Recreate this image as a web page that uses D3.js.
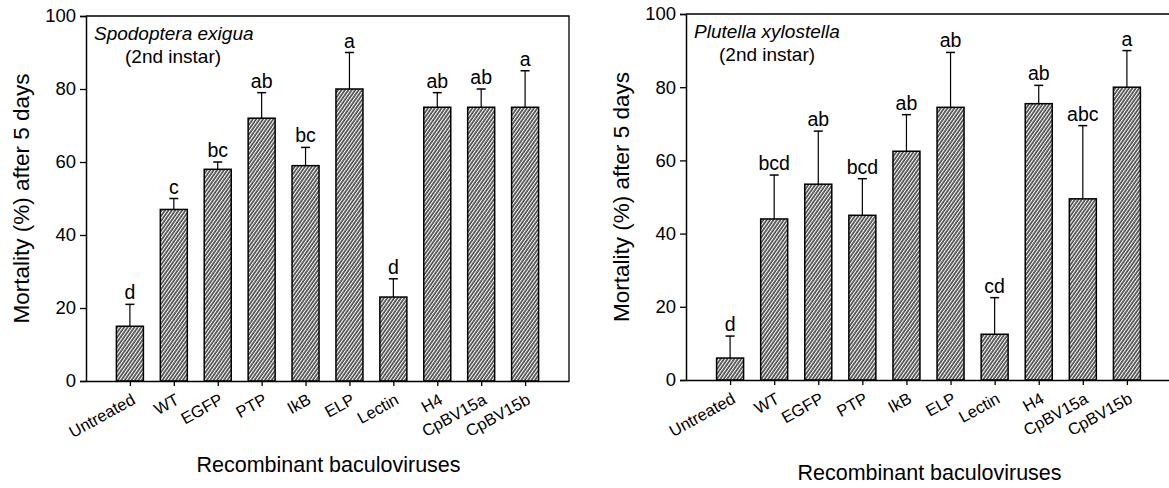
<!DOCTYPE html>
<html>
<head>
<meta charset="utf-8">
<script src="https://cdn.jsdelivr.net/npm/d3@7"></script>
<style>
  body { margin: 0; background: #fff; }
  svg { display: block; font-family: "Liberation Sans", Arial, sans-serif; }
</style>
</head>
<body>
<div id="chart"></div>
<script>
// Categories and values
const categories = ["Untreated", "WT", "EGFP", "PTP", "IkB", "ELP", "Lectin", "H4", "CpBV15a", "CpBV15b"];
const yTicks = [0, 20, 40, 60, 80, 100];

const exiguaMean  = [15, 47, 58, 72, 59, 80, 23, 75, 75, 75];
const exiguaErr   = [6, 3, 2, 7, 5, 10, 5, 4, 5, 10];
const exiguaGroup = ["d", "c", "bc", "ab", "bc", "a", "d", "ab", "ab", "a"];

const xyloMean  = [6, 44, 53.5, 45, 62.5, 74.5, 12.5, 75.5, 49.5, 80];
const xyloErr   = [6, 12, 14.5, 10, 10, 15, 10, 5, 20, 10];
const xyloGroup = ["d", "bcd", "ab", "bcd", "ab", "ab", "cd", "ab", "abc", "a"];

const W = 1169, H = 488;

const svg = d3.select("#chart")
  .append("svg")
  .attr("width", W)
  .attr("height", H);

// diagonal hatch used by every bar
svg.append("defs")
  .append("pattern")
  .attr("id", "hatch")
  .attr("patternUnits", "userSpaceOnUse")
  .attr("width", 2.8)
  .attr("height", 10)
  .attr("patternTransform", "rotate(35)")
  .append("line")
  .attr("x1", 1).attr("y1", 0)
  .attr("x2", 1).attr("y2", 10)
  .attr("stroke", "#000")
  .attr("stroke-width", 1.2);

function drawPanel(opt) {
  const { left, right, top, base, mean, err, group, species, speciesX, titleY } = opt;

  const x = d3.scalePoint().domain(categories).range([left, right]).padding(1);
  const y = d3.scaleLinear().domain([0, 100]).range([base, top]);
  const bw = 27;

  const g = svg.append("g");

  // frame (top + right)
  g.append("path")
    .attr("d", `M${left},${y(100)} H${right} V${base}`)
    .attr("fill", "none")
    .attr("stroke", "#000")
    .attr("stroke-width", 1.3);

  // y axis
  const yAxis = g.append("g")
    .attr("transform", `translate(${left},0)`)
    .call(d3.axisLeft(y).tickValues(yTicks).tickSize(6).tickPadding(4));
  yAxis.select(".domain").attr("stroke-width", 1.5);
  yAxis.selectAll(".tick line").attr("stroke-width", 1.3);
  yAxis.selectAll("text")
    .attr("font-size", 18.5)
    .attr("font-family", "Liberation Sans, Arial, sans-serif")
    .attr("fill", "#000");

  // x axis
  const xAxis = g.append("g")
    .attr("transform", `translate(0,${base})`)
    .call(d3.axisBottom(x).tickSize(5).tickSizeOuter(0));
  xAxis.select(".domain").attr("stroke-width", 1.5);
  xAxis.selectAll(".tick line").attr("stroke-width", 1.3);
  xAxis.selectAll("text")
    .attr("font-size", 16.5)
    .attr("font-family", "Liberation Sans, Arial, sans-serif")
    .attr("fill", "#000")
    .attr("text-anchor", "end")
    .attr("dy", null)
    .attr("y", 0)
    .attr("transform", "translate(6,22) rotate(-29)");

  const rows = categories.map((c, i) => ({ c, m: mean[i], e: err[i], lab: group[i] }));

  // bars
  g.selectAll("rect.bar")
    .data(rows)
    .join("rect")
    .attr("class", "bar")
    .attr("x", d => x(d.c) - bw / 2)
    .attr("width", bw)
    .attr("y", d => y(d.m))
    .attr("height", d => base - y(d.m))
    .attr("fill", "url(#hatch)")
    .attr("stroke", "#000")
    .attr("stroke-width", 1.5);

  // upper error bars
  g.selectAll("line.err")
    .data(rows)
    .join("line")
    .attr("class", "err")
    .attr("x1", d => x(d.c)).attr("x2", d => x(d.c))
    .attr("y1", d => y(d.m)).attr("y2", d => y(d.m + d.e))
    .attr("stroke", "#000")
    .attr("stroke-width", 1.2);
  g.selectAll("line.cap")
    .data(rows)
    .join("line")
    .attr("class", "cap")
    .attr("x1", d => x(d.c) - 4.5).attr("x2", d => x(d.c) + 4.5)
    .attr("y1", d => y(d.m + d.e)).attr("y2", d => y(d.m + d.e))
    .attr("stroke", "#000")
    .attr("stroke-width", 1.5);

  // significance letters
  g.selectAll("text.grp")
    .data(rows)
    .join("text")
    .attr("class", "grp")
    .attr("x", d => x(d.c))
    .attr("y", d => y(d.m + d.e) - 5)
    .attr("text-anchor", "middle")
    .attr("font-size", 19.5)
    .text(d => d.lab);

  // species label
  g.append("text")
    .attr("x", left + 8)
    .attr("y", top + 24)
    .attr("font-size", 19)
    .attr("font-style", "italic")
    .text(species);
  g.append("text")
    .attr("x", speciesX)
    .attr("y", top + 47)
    .attr("font-size", 19)
    .text("(2nd instar)");

  // axis titles
  g.append("text")
    .attr("transform", `translate(${left - 57},${(top + base) / 2}) rotate(-90)`)
    .attr("text-anchor", "middle")
    .attr("font-size", 22.5)
    .text("Mortality (%) after 5 days");
  g.append("text")
    .attr("x", (left + right) / 2 + 1)
    .attr("y", titleY)
    .attr("text-anchor", "middle")
    .attr("font-size", 21.5)
    .text("Recombinant baculoviruses");
}

drawPanel({
  left: 86, right: 569, top: 16, base: 381,
  mean: exiguaMean, err: exiguaErr, group: exiguaGroup,
  species: "Spodoptera exigua", speciesX: 125, titleY: 472
});

drawPanel({
  left: 686, right: 1171, top: 14, base: 380,
  mean: xyloMean, err: xyloErr, group: xyloGroup,
  species: "Plutella xylostella", speciesX: 719, titleY: 480
});
</script>
</body>
</html>
